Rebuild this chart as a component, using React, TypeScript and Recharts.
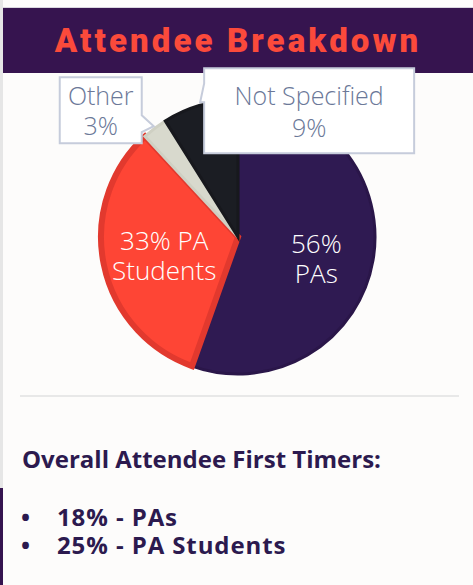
import { PieChart, Pie, Cell } from 'recharts';

// Attendee breakdown pie + first timer list

const categories = ['PAs', 'PA Students', 'Other', 'Not Specified'];
const shares = [56, 33, 3, 9];
const sliceLabels = [
  ['56%', 'PAs'],
  ['33% PA', 'Students'],
  ['Other', '3%'],
  ['Not Specified', '9%'],
];
const firstTimers = ['18% - PAs', '25% - PA Students'];

const fills = ['#2f1a52', '#fe4535', '#d8d9cd', '#1b1d23'];
const strokes = ['#2a1649', '#e2392e', '#cfd0c3', '#17181d'];
const labelRadius = [0.58, 0.55];
const labelShift = [2, -2];

const data = categories.map((name, i) => ({ name, value: shares[i] }));

const RAD = Math.PI / 180;
const LABEL_FONT = '"Open Sans", "DejaVu Sans", sans-serif';

function SliceLabel(props: any) {
  const { cx, cy, midAngle, outerRadius, index } = props;
  const lines = sliceLabels[index];
  const cos = Math.cos(-midAngle * RAD);
  const sin = Math.sin(-midAngle * RAD);

  if (index < 2) {
    const r = outerRadius * labelRadius[index];
    const x = cx + r * cos;
    const y = cy + r * sin + labelShift[index];
    return (
      <text
        textAnchor="middle"
        fill="#ffffff"
        fontFamily={LABEL_FONT}
        fontWeight={300}
        fontSize={26}
      >
        <tspan x={x} y={y}>{lines[0]}</tspan>
        <tspan x={x} y={y + 30}>{lines[1]}</tspan>
      </text>
    );
  }

  // callout boxes anchored on the slice's outer edge
  const px = cx + outerRadius * cos;
  const py = cy + outerRadius * sin;
  const boxStyle = {
    fill: '#ffffff',
    stroke: '#c6ccdb',
    strokeWidth: 2,
  };

  if (index === 2) {
    const l = px - 95;
    const r = px - 13;
    const t = py - 51;
    const b = py + 15;
    const d = `M${l},${t} L${r},${t} L${r},${py - 13} L${px - 1},${py - 2} L${r},${py + 4} L${r},${b} L${l},${b} Z`;
    const tx = (l + r) / 2;
    return (
      <g>
        <path d={d} {...boxStyle} />
        <text
          textAnchor="middle"
          fill="#6b7898"
          fontFamily={LABEL_FONT}
          fontWeight={300}
          fontSize={25}
        >
          <tspan x={tx} y={t + 28}>{lines[0]}</tspan>
          <tspan x={tx} y={t + 58}>{lines[1]}</tspan>
        </text>
      </g>
    );
  }

  const l = px + 4;
  const r = px + 214;
  const t = py - 37;
  const b = py + 48;
  const d = `M${l},${t} L${r},${t} L${r},${b} L${l},${b} L${l},${py - 3} L${px},${py - 3} L${l},${py - 22} Z`;
  const tx = (l + r) / 2;
  return (
    <g>
      <path d={d} {...boxStyle} />
      <text
        textAnchor="middle"
        fill="#6b7898"
        fontFamily={LABEL_FONT}
        fontWeight={300}
        fontSize={25}
      >
        <tspan x={tx} y={t + 37}>{lines[0]}</tspan>
        <tspan x={tx} y={t + 69}>{lines[1]}</tspan>
      </text>
    </g>
  );
}

export default function App() {
  return (
    <div
      style={{
        position: 'absolute',
        left: 0,
        top: 0,
        width: 473,
        height: 585,
        background: '#fdfcfb',
        overflow: 'hidden',
        fontFamily: LABEL_FONT,
      }}
    >
      {/* left rules */}
      <div
        style={{
          position: 'absolute',
          left: 0,
          top: 0,
          width: 3,
          height: 488,
          background: '#e6e6e6',
        }}
      />
      <div
        style={{
          position: 'absolute',
          left: 0,
          top: 488,
          width: 3,
          height: 97,
          background: '#35144f',
        }}
      />

      {/* header band */}
      <div
        style={{
          position: 'absolute',
          left: 3,
          top: 7,
          width: 470,
          height: 66,
          background: '#36144f',
          borderTop: '1px solid #d9d6de',
          boxSizing: 'border-box',
        }}
      />

      <div style={{ position: 'absolute', left: 0, top: 0 }}>
        <PieChart width={473} height={400}>
          <Pie
            data={data}
            dataKey="value"
            nameKey="name"
            cx={233}
            cy={232}
            outerRadius={137}
            startAngle={90}
            endAngle={-270}
            label={SliceLabel}
            labelLine={false}
            isAnimationActive={false}
          >
            {data.map((entry, i) => (
              <Cell
                key={entry.name}
                fill={fills[i]}
                stroke={strokes[i]}
                strokeWidth={i === 1 ? 6 : 3}
              />
            ))}
          </Pie>
        </PieChart>
      </div>

      {/* title sits above the chart */}
      <div
        style={{
          position: 'absolute',
          left: 3,
          top: 7,
          width: 470,
          height: 66,
          display: 'flex',
          alignItems: 'center',
          justifyContent: 'center',
          color: '#fb4a3b',
          fontFamily: 'Roboto, "DejaVu Sans", sans-serif',
          fontWeight: 900,
          fontSize: 33,
          letterSpacing: 3.1,
        }}
      >
        Attendee Breakdown
      </div>

      {/* separator */}
      <div
        style={{
          position: 'absolute',
          left: 20,
          top: 395,
          width: 439,
          height: 2,
          background: '#e8e8e8',
        }}
      />

      <div
        style={{
          position: 'absolute',
          left: 22,
          top: 442,
          color: '#2c1a4f',
          fontWeight: 700,
          fontSize: 24,
          whiteSpace: 'nowrap',
        }}
      >
        Overall Attendee First Timers:
      </div>

      {firstTimers.map((t, i) => (
        <div
          key={t}
          style={{
            position: 'absolute',
            left: 21,
            top: 503 + i * 28,
            height: 28,
            lineHeight: '28px',
            color: '#2c1a4f',
            fontWeight: 700,
            fontSize: 24,
            whiteSpace: 'nowrap',
          }}
        >
          <span style={{ display: 'inline-block', width: 36 }}>•</span>
          <span style={{ letterSpacing: 0.9 }}>{t}</span>
        </div>
      ))}
    </div>
  );
}
